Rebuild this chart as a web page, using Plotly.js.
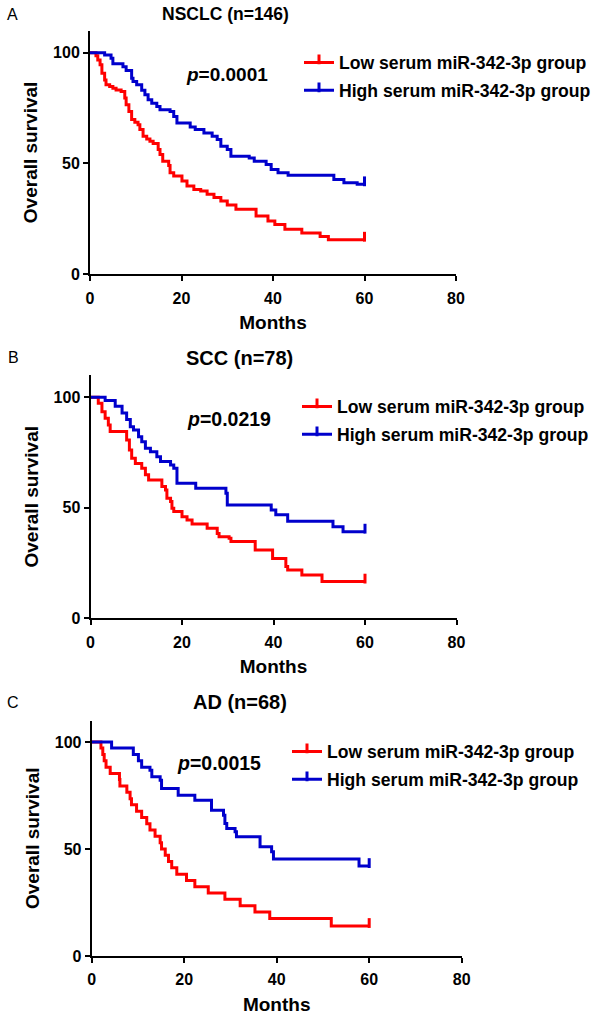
<!DOCTYPE html>
<html><head><meta charset="utf-8">
<script src="https://cdn.plot.ly/plotly-3.0.1.min.js"></script>
<style>html,body{margin:0;padding:0;background:#fff}</style>
</head><body><div id="chart" style="width:600px;height:1018px"></div>
<script>
// ---------- data ----------
const groupNames = ['Low serum miR-342-3p group', 'High serum miR-342-3p group'];
const panelTitles = ['NSCLC (n=146)', 'SCC (n=78)', 'AD (n=68)'];
const panelLetters = ['A', 'B', 'C'];
const pValues = ['0.0001', '0.0219', '0.0015'];
const xTicks = [0, 20, 40, 60, 80];
const yTicks = [0, 50, 100];
const xLabel = 'Months';
const yLabel = 'Overall survival';

// Panel A: NSCLC
const lowA_t  = [0,1.3,1.7,2.2,2.6,3.2,3.5,4.3,5.0,5.7,6.8,7.6,7.9,8.5,9.1,9.8,10.5,10.9,11.6,12.4,13.1,13.8,14.9,15.3,15.9,17.2,17.5,18.3,20.1,21.2,22.7,24.2,25.6,27.1,28.6,30.0,31.9,36.3,38.9,40.4,42.6,46.3,50.3,52.1,60];
const lowA_s  = [100,98.6,96.7,94.5,90.7,87.7,85.5,84.7,84.0,83.2,82.5,79.5,76.5,73.5,69.8,68.6,67.5,65.3,62.3,61.1,60.0,59.0,56.3,54.0,51.0,49.1,45.8,44.3,42.1,39.8,38.3,37.6,36.1,34.6,33.1,31.3,29.3,26.3,24.0,22.5,20.3,18.6,17.1,15.6,15.6];
const highA_t = [0,3.2,4.6,5.0,7.2,7.9,9.1,9.4,10.2,11.3,12.0,12.7,13.5,14.6,15.3,17.5,18.3,19.0,21.9,23.0,24.9,26.7,27.8,28.6,30.0,30.8,34.8,35.9,38.5,39.6,41.1,43.3,53.3,55.5,58.4,60];
const highA_s = [100,99.0,97.5,95.0,93.7,92.0,88.5,87.0,85.5,83.0,81.0,78.8,77.2,75.7,74.2,73.5,71.2,68.3,66.5,65.3,63.8,62.3,60.8,57.8,56.3,53.3,52.5,51.0,49.5,47.3,45.8,44.7,42.8,41.3,40.6,40.6];

// Panel B: SCC
const lowB_t  = [0,1.7,2.5,3.2,3.9,4.3,7.9,8.5,9.0,9.8,11.2,12.0,12.7,15.6,16.4,16.7,17.5,17.8,18.2,20.0,21.1,22.2,25.5,27.7,28.1,30.3,30.7,36.0,39.8,42.7,43.1,46.2,50.6,60];
const lowB_s  = [100,97.3,93.5,90.5,87.5,84.5,80.7,76.2,72.4,70.1,67.9,64.9,62.6,59.6,58.1,54.3,52.8,49.8,48.3,46.0,44.5,42.7,40.7,38.4,36.9,36.2,34.7,30.9,27.1,23.4,21.9,19.6,16.6,16.6];
const highB_t = [0,3.2,5.4,6.9,7.9,8.7,9.4,10.5,11.2,12.0,13.1,14.5,15.3,17.5,18.2,18.9,23.0,29.6,29.9,39.5,40.5,43.1,53.0,55.2,60];
const highB_s = [100,98.6,95.9,92.9,89.9,86.7,85.2,82.2,79.9,76.9,75.4,73.1,70.9,69.4,67.9,61.1,58.8,56.6,51.3,49.0,46.8,43.9,41.4,39.2,39.2];

// Panel C: AD
const lowC_t  = [0,2.0,2.4,2.7,3.1,4.0,6.0,6.1,7.6,8.3,8.6,9.7,10.8,11.9,12.6,13.7,14.8,15.1,15.9,16.6,17.3,18.4,20.5,22.3,25.2,28.8,32.1,35.3,38.5,51.8,60];
const lowC_s  = [100,97.1,94.1,91.2,88.2,85.3,82.4,79.4,76.5,73.5,70.6,67.6,64.7,61.8,58.8,55.9,52.9,50.0,47.1,44.1,41.2,38.2,35.3,32.4,29.4,26.5,23.5,20.6,17.5,14.0,14.0];
const highC_t = [0,4.3,9.0,10.1,10.8,12.6,13.0,14.8,15.1,18.7,22.3,25.9,28.5,28.8,29.2,31.0,31.3,36.4,38.9,39.3,57.8,60];
const highC_s = [100,97.1,94.1,91.2,88.2,86.8,83.7,82.1,78.2,75.1,72.8,68.1,65.8,61.9,59.6,58.0,55.7,51.0,48.7,45.3,42.0,42.0];

// ---------- styling / geometry ----------
const W = 600, H = 1018;
const FONT = 'Liberation Sans, Arial, Helvetica, sans-serif';
const colors = ['#FF0000', '#0000CC'];
const px = v => v / W;
const py = v => 1 - v / H;

const series = [
  [[lowA_t, lowA_s], [highA_t, highA_s]],
  [[lowB_t, lowB_s], [highB_t, highB_s]],
  [[lowC_t, lowC_s], [highC_t, highC_s]]
];
// plot boxes in pixels: left, right, top, bottom
const boxes = [
  {l: 90,   r: 456,   t: 30.5,  b: 274.3},
  {l: 90.5, r: 456.5, t: 375.2, b: 618.3},
  {l: 91.7, r: 461.7, t: 720.5, b: 956}
];
const titlePos  = [{x: 225, y: 13.5, s: 17.5}, {x: 239, y: 357.7, s: 20}, {x: 240, y: 702, s: 20}];
const letterPos = [{x: 12.5, y: 14}, {x: 13, y: 357.7}, {x: 13, y: 702}];
const pPos      = [{x: 227, y: 75, s: 19}, {x: 229, y: 419.3, s: 19.5}, {x: 219, y: 763.3, s: 19.5}];
const legPos    = [{x: 299, y: 44.5}, {x: 297, y: 388.5}, {x: 287, y: 733.5}];

const traces = [];
const layout = {
  width: W, height: H,
  margin: {l: 0, r: 0, t: 0, b: 0},
  paper_bgcolor: '#fff', plot_bgcolor: '#fff',
  font: {family: FONT, color: '#000'},
  showlegend: true,
  annotations: []
};

series.forEach((grp, i) => {
  const sfx = i === 0 ? '' : String(i + 1);
  const xa = 'x' + sfx, ya = 'y' + sfx;
  const legId = 'legend' + sfx;
  grp.forEach((ts, g) => {
    const [t, s] = ts;
    // survival step curve
    traces.push({
      x: t, y: s, xaxis: xa, yaxis: ya, type: 'scatter', mode: 'lines',
      line: {shape: 'hv', color: colors[g], width: 3},
      showlegend: false, hoverinfo: 'skip'
    });
    // censor tick at end of follow-up (points upward)
    traces.push({
      x: [t[t.length - 1]], y: [s[s.length - 1]], xaxis: xa, yaxis: ya,
      type: 'scatter', mode: 'markers', showlegend: false, cliponaxis: false,
      marker: {symbol: 'line-ns-open', size: 7, angle: 180, standoff: 3,
               color: colors[g], line: {color: colors[g], width: 3}},
      hoverinfo: 'skip'
    });
    // legend entry (line with censor tick)
    traces.push({
      x: [null], y: [null], xaxis: xa, yaxis: ya,
      type: 'scatter', mode: 'lines+markers', name: groupNames[g],
      legend: legId, legendgroup: 'g' + i + g,
      line: {color: colors[g], width: 3},
      marker: {symbol: 'line-ns-open', size: 7, angle: 0, standoff: 3,
               color: colors[g], line: {color: colors[g], width: 3}},
      hoverinfo: 'skip'
    });
  });
  const bx = boxes[i];
  const axCommon = {
    showline: true, linecolor: '#000', linewidth: 2,
    ticks: 'outside', ticklen: 5, tickwidth: 2, tickcolor: '#000',
    showgrid: false, zeroline: false, automargin: false, fixedrange: true,
    tickfont: {family: FONT, size: 16, weight: 'bold', color: '#000'}
  };
  layout['xaxis' + sfx] = Object.assign({}, axCommon, {
    domain: [px(bx.l), px(bx.r)], anchor: ya, range: [0, 80],
    tickmode: 'array', tickvals: xTicks, ticktext: xTicks.map(String),
    ticklabelstandoff: 3,
    title: {text: xLabel, font: {family: FONT, size: 19, weight: 'bold', color: '#000'}, standoff: 10}
  });
  layout['yaxis' + sfx] = Object.assign({}, axCommon, {
    domain: [py(bx.b), py(bx.t)], anchor: xa, range: [0, 110],
    tickmode: 'array', tickvals: yTicks, ticktext: yTicks.map(String),
    title: {text: yLabel, font: {family: FONT, size: 19, weight: 'bold', color: '#000'}, standoff: 10}
  });
  layout[legId] = {
    x: px(legPos[i].x), y: py(legPos[i].y), xanchor: 'left', yanchor: 'top',
    bgcolor: 'rgba(0,0,0,0)', borderwidth: 0, tracegroupgap: 2,
    font: {family: FONT, size: 17.6, weight: 'bold', color: '#000'}
  };
  layout.annotations.push({
    xref: 'paper', yref: 'paper', x: px(titlePos[i].x), y: py(titlePos[i].y),
    xanchor: 'center', yanchor: 'middle', showarrow: false,
    text: '<b>' + panelTitles[i] + '</b>', font: {family: FONT, size: titlePos[i].s, color: '#000'}
  });
  layout.annotations.push({
    xref: 'paper', yref: 'paper', x: px(letterPos[i].x), y: py(letterPos[i].y),
    xanchor: 'center', yanchor: 'middle', showarrow: false,
    text: panelLetters[i], font: {family: FONT, size: 16, color: '#000'}
  });
  layout.annotations.push({
    xref: 'paper', yref: 'paper', x: px(pPos[i].x), y: py(pPos[i].y),
    xanchor: 'center', yanchor: 'middle', showarrow: false,
    text: '<b><i>p</i>=' + pValues[i] + '</b>', font: {family: FONT, size: pPos[i].s, color: '#000'}
  });
});

Plotly.newPlot('chart', traces, layout, {staticPlot: true, displayModeBar: false});
</script>
</body></html>
